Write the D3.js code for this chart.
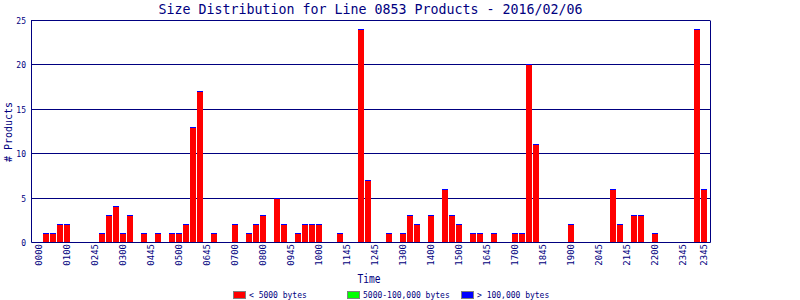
<!DOCTYPE html>
<html>
<head>
<meta charset="utf-8">
<script src="https://cdn.jsdelivr.net/npm/d3@7"></script>
<style>
  body { margin: 0; background: #fff; }
  text { font-family: "DejaVu Sans Mono", "Liberation Mono", monospace; fill: #000080; }
</style>
</head>
<body>
<svg id="chart" width="800" height="300"></svg>
<script>
// products per 15 minute slot, 96 slots
let smallCounts = [
  0, 1, 1, 2, 2, 0, 0, 0, 0, 1, 3, 4, 1, 3, 0, 1,
  0, 1, 0, 1, 1, 2, 13, 17, 0, 1, 0, 0, 2, 0, 1, 2,
  3, 0, 5, 2, 0, 1, 2, 2, 2, 0, 0, 1, 0, 0, 24, 7,
  0, 0, 1, 0, 1, 3, 2, 0, 3, 0, 6, 3, 2, 0, 1, 1,
  0, 1, 0, 0, 1, 1, 20, 11, 0, 0, 0, 0, 2, 0, 0, 0,
  0, 0, 6, 2, 0, 3, 3, 0, 1, 0, 0, 0, 0, 0, 24, 6
]
let mediumCounts = [
  0, 0, 0, 0, 0, 0, 0, 0, 0, 0, 0, 0, 0, 0, 0, 0,
  0, 0, 0, 0, 0, 0, 0, 0, 0, 0, 0, 0, 0, 0, 0, 0,
  0, 0, 0, 0, 0, 0, 0, 0, 0, 0, 0, 0, 0, 0, 0, 0,
  0, 0, 0, 0, 0, 0, 0, 0, 0, 0, 0, 0, 0, 0, 0, 0,
  0, 0, 0, 0, 0, 0, 0, 0, 0, 0, 0, 0, 0, 0, 0, 0,
  0, 0, 0, 0, 0, 0, 0, 0, 0, 0, 0, 0, 0, 0, 0, 0
]
let largeCounts = [
  0, 0, 0, 0, 0, 0, 0, 0, 0, 0, 0, 0, 0, 0, 0, 0,
  0, 0, 0, 0, 0, 0, 0, 0, 0, 0, 0, 0, 0, 0, 0, 0,
  0, 0, 0, 0, 0, 0, 0, 0, 0, 0, 0, 0, 0, 0, 0, 0,
  0, 0, 0, 0, 0, 0, 0, 0, 0, 0, 0, 0, 0, 0, 0, 0,
  0, 0, 0, 0, 0, 0, 0, 0, 0, 0, 0, 0, 0, 0, 0, 0,
  0, 0, 0, 0, 0, 0, 0, 0, 0, 0, 0, 0, 0, 0, 0, 0
]

let tickLabels = ['0000', '0100', '0245', '0300', '0445', '0500', '0645', '0700', '0800',
  '0945', '1000', '1145', '1245', '1300', '1400', '1500', '1645', '1700', '1845',
  '1900', '2045', '2145', '2200', '2345', '2345']
let tickSlots = [0, 4, 8, 12, 16, 20, 24, 28, 32, 36, 40, 44, 48, 52, 56, 60, 64,
  68, 72, 76, 80, 84, 88, 92, 95]

let yTicks = [0, 5, 10, 15, 20, 25]
let seriesKeys = ['small', 'medium', 'large']
let seriesNames = ['< 5000 bytes', '5000-100,000 bytes', '> 100,000 bytes']
let seriesColors = ['#ff0000', '#00ff00', '#0000ff']

let navy = '#000080'
let plot = {left: 31, right: 710, top: 20, bottom: 242}

let svg = d3.select('#chart')

let rows = smallCounts.map((v, i) => ({slot: i, small: v, medium: mediumCounts[i], large: largeCounts[i]}))
let stacked = d3.stack().keys(seriesKeys)(rows)

let xScale = d3.scaleBand()
  .domain(rows.map(d => d.slot))
  .range([36, 707])
  .paddingInner(1 / 7)
  .paddingOuter(0)
let yScale = d3.scaleLinear().domain([0, 25]).range([plot.bottom, plot.top])

// grid
svg.append('g').classed('grid', true)
  .selectAll('line')
  .data(yTicks.slice(1))
  .join('line')
  .attr('x1', plot.left).attr('x2', plot.right)
  .attr('y1', d => Math.round(yScale(d)) + 0.5)
  .attr('y2', d => Math.round(yScale(d)) + 0.5)
  .attr('stroke', navy)

// bars
svg.append('g').classed('bars', true)
  .selectAll('g')
  .data(stacked)
  .join('g')
  .attr('fill', (d, i) => seriesColors[i])
  .selectAll('rect')
  .data(d => d)
  .join('rect')
  .attr('shape-rendering', 'crispEdges')
  .attr('x', d => xScale(d.data.slot))
  .attr('width', xScale.bandwidth())
  .attr('y', d => Math.round(yScale(d[1])))
  .attr('height', d => Math.max(1, Math.round(yScale(d[0])) - Math.round(yScale(d[1]))))

// frame
svg.append('path')
  .attr('d', 'M' + (plot.left + 0.5) + ',' + (plot.top + 0.5) + 'V' + (plot.bottom + 0.5) +
    'H' + (plot.right + 0.5) + 'V' + (plot.top + 0.5))
  .attr('fill', 'none')
  .attr('stroke', navy)

// y tick labels
svg.append('g').classed('y-axis', true)
  .selectAll('text')
  .data(yTicks)
  .join('text')
  .attr('x', 26)
  .attr('y', d => Math.round(yScale(d)) + 3.5)
  .attr('text-anchor', 'end')
  .style('font-size', '8px')
  .text(d => d)

// x tick labels
svg.append('g').classed('x-axis', true)
  .selectAll('text')
  .data(tickSlots)
  .join('text')
  .attr('text-anchor', 'end')
  .style('font-size', '9px')
  .attr('transform', d => 'translate(' + (xScale(d) + xScale.bandwidth() / 2 + 2.8) + ',' + 244 + ') rotate(-90)')
  .text((d, i) => tickLabels[i])

// title and axis labels
svg.append('text')
  .attr('x', 370.5).attr('y', 13.5)
  .attr('text-anchor', 'middle')
  .attr('textLength', 424).attr('lengthAdjust', 'spacingAndGlyphs')
  .style('font-size', '14px')
  .text('Size Distribution for Line 0853 Products - 2016/02/06')

svg.append('text')
  .attr('text-anchor', 'middle')
  .attr('textLength', 60).attr('lengthAdjust', 'spacingAndGlyphs')
  .attr('transform', 'translate(11.5,132) rotate(-90)')
  .style('font-size', '11px')
  .text('# Products')

svg.append('text')
  .attr('x', 369).attr('y', 282.5)
  .attr('text-anchor', 'middle')
  .attr('textLength', 23).attr('lengthAdjust', 'spacingAndGlyphs')
  .style('font-size', '12px')
  .text('Time')

// legend
let legendX = [233, 347, 461]
let legend = svg.append('g').classed('legend', true)
  .selectAll('g')
  .data(seriesNames)
  .join('g')
  .attr('transform', (d, i) => 'translate(' + legendX[i] + ',291)')
legend.append('rect')
  .attr('x', 0.5).attr('y', 0.5)
  .attr('width', 12).attr('height', 7)
  .attr('fill', (d, i) => seriesColors[i])
  .attr('stroke', '#808080')
  .attr('shape-rendering', 'crispEdges')
legend.append('text')
  .attr('x', 16).attr('y', 7)
  .style('font-size', '8px')
  .text(d => d)
</script>
</body>
</html>
